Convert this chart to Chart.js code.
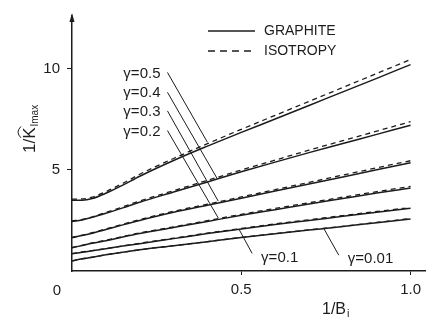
<!DOCTYPE html>
<html>
<head>
<meta charset="utf-8">
<script src="https://cdn.jsdelivr.net/npm/chart.js@4.4.1/dist/chart.umd.min.js"></script>
<style>
html, body { margin: 0; padding: 0; background: #fff; }
#caixa { width: 427px; height: 322px; position: relative; }
</style>
</head>
<body>
<div id="caixa"><canvas id="grafico"></canvas></div>
<script>
// eixo x: 1/Bi
const valoresX = [0, 0.03, 0.06, 0.1, 0.15, 0.2, 0.3, 0.4, 0.5, 0.6, 0.7, 0.8, 0.9, 1.0];

const gamas = ['γ=0.5', 'γ=0.4', 'γ=0.3', 'γ=0.2', 'γ=0.1', 'γ=0.01'];

// 1/K_Imax - grafite (linha cheia)
const grafite05 = [3.5, 3.5, 3.58, 3.84, 4.24, 4.68, 5.46, 6.17, 6.85, 7.51, 8.18, 8.85, 9.52, 10.2];
const grafite04 = [2.45, 2.52, 2.65, 2.85, 3.12, 3.4, 3.9, 4.4, 4.9, 5.38, 5.85, 6.3, 6.75, 7.2];
const grafite03 = [1.65, 1.75, 1.87, 2.05, 2.28, 2.5, 2.9, 3.25, 3.6, 3.95, 4.3, 4.65, 5.0, 5.35];
const grafite02 = [1.15, 1.26, 1.37, 1.5, 1.68, 1.85, 2.15, 2.45, 2.75, 3.03, 3.31, 3.58, 3.85, 4.1];
const grafite01 = [0.85, 0.93, 1.0, 1.1, 1.23, 1.35, 1.6, 1.85, 2.08, 2.3, 2.5, 2.7, 2.9, 3.1];
const grafite001 = [0.5, 0.6, 0.68, 0.8, 0.93, 1.05, 1.25, 1.45, 1.65, 1.84, 2.02, 2.2, 2.39, 2.57];

// 1/K_Imax - isotropia (tracejada)
const isotropia05 = [3.55, 3.56, 3.65, 3.92, 4.33, 4.78, 5.56, 6.29, 7.0, 7.69, 8.38, 9.07, 9.76, 10.45];
const isotropia04 = [2.47, 2.55, 2.68, 2.89, 3.17, 3.46, 3.97, 4.48, 4.99, 5.48, 5.97, 6.44, 6.91, 7.38];
const isotropia03 = [1.66, 1.77, 1.89, 2.08, 2.31, 2.54, 2.95, 3.3, 3.66, 4.02, 4.38, 4.74, 5.1, 5.45];
const isotropia02 = [1.16, 1.27, 1.39, 1.52, 1.7, 1.88, 2.18, 2.49, 2.8, 3.09, 3.37, 3.65, 3.92, 4.18];
const isotropia01 = [0.86, 0.94, 1.01, 1.11, 1.24, 1.37, 1.62, 1.87, 2.1, 2.33, 2.53, 2.74, 2.94, 3.14];
const isotropia001 = [0.5, 0.6, 0.68, 0.8, 0.93, 1.05, 1.25, 1.45, 1.66, 1.85, 2.03, 2.21, 2.4, 2.59];

// linhas de chamada dos rotulos (inicio no rotulo, fim na curva)
const chamadaInicioX = [0.282, 0.282, 0.282, 0.282, 0.532, 0.788];
const chamadaInicioY = [9.81, 8.83, 7.91, 6.94, 0.87, 0.78];
const chamadaFimX = [0.40, 0.429, 0.432, 0.432, 0.494, 0.744];
const chamadaFimY = [6.36, 4.56, 3.45, 2.62, 2.04, 2.09];

const ticksX = [0.5, 1.0];
const ticksY = [5, 10];

const COR = '#1c1c1c';
const FONTE = '"Liberation Sans", Arial, sans-serif';

function serie(ys) {
    return valoresX.map((x, i) => ({ x: x, y: ys[i] }));
}

const grafites = [grafite05, grafite04, grafite03, grafite02, grafite01, grafite001];
const isotropias = [isotropia05, isotropia04, isotropia03, isotropia02, isotropia01, isotropia001];

const conjuntos = [];
grafites.forEach((g, i) => {
    conjuntos.push({
        label: 'GRAPHITE ' + gamas[i],
        data: serie(g),
        borderColor: COR, borderWidth: 1.5, pointRadius: 0,
        cubicInterpolationMode: 'monotone', fill: false
    });
});
isotropias.forEach((g, i) => {
    conjuntos.push({
        label: 'ISOTROPY ' + gamas[i],
        data: serie(g),
        borderColor: COR, borderWidth: 1.3, borderDash: [5, 4], pointRadius: 0,
        cubicInterpolationMode: 'monotone', fill: false
    });
});
gamas.forEach((g, i) => {
    conjuntos.push({
        label: 'chamada ' + g,
        data: [{ x: chamadaInicioX[i], y: chamadaInicioY[i] }, { x: chamadaFimX[i], y: chamadaFimY[i] }],
        borderColor: COR, borderWidth: 1, pointRadius: 0, fill: false
    });
});

const desenhoExtra = {
    id: 'desenhoExtra',
    afterDraw(chart) {
        const ctx = chart.ctx;
        const sx = chart.scales.x, sy = chart.scales.y;
        const area = chart.chartArea;
        ctx.save();
        ctx.fillStyle = COR;
        ctx.strokeStyle = COR;

        // seta no topo do eixo y
        ctx.beginPath();
        ctx.moveTo(area.left, area.top - 3);
        ctx.lineTo(area.left - 2.5, area.top + 6);
        ctx.lineTo(area.left + 2.5, area.top + 6);
        ctx.closePath();
        ctx.fill();

        // rotulos gama
        ctx.font = '15px ' + FONTE;
        ctx.textBaseline = 'middle';
        gamas.forEach((g, i) => {
            const px = sx.getPixelForValue(chamadaInicioX[i]);
            const py = sy.getPixelForValue(chamadaInicioY[i]);
            if (i < 4) {
                ctx.textAlign = 'right';
                ctx.fillText(g, px - 7, py + 1);
            } else {
                ctx.textAlign = 'left';
                ctx.fillText(g, px + 9, py + 4);
            }
        });

        // legenda
        ctx.lineWidth = 1.5;
        ctx.beginPath();
        ctx.moveTo(208, 31); ctx.lineTo(255, 31);
        ctx.stroke();
        ctx.setLineDash([7, 5]);
        ctx.beginPath();
        ctx.moveTo(208, 51); ctx.lineTo(255, 51);
        ctx.stroke();
        ctx.setLineDash([]);
        ctx.textAlign = 'left';
        ctx.font = '14px ' + FONTE;
        ctx.fillText('GRAPHITE', 264, 31);
        ctx.fillText('ISOTROPY', 264, 51);

        // origem
        ctx.font = '15px ' + FONTE;
        ctx.textAlign = 'center';
        ctx.fillText('0', sx.getPixelForValue(0) - 15, 291);

        // titulo do eixo x: 1/Bi
        ctx.textAlign = 'left';
        ctx.font = '16px ' + FONTE;
        const tx = 322;
        ctx.fillText('1/B', tx, 310);
        const wB = ctx.measureText('1/B').width;
        ctx.font = '11px ' + FONTE;
        ctx.fillText('i', tx + wB + 1, 314);

        // titulo do eixo y: 1/K^Imax (rotacionado)
        ctx.translate(30, 153);
        ctx.rotate(-Math.PI / 2);
        ctx.font = '17px ' + FONTE;
        ctx.textAlign = 'left';
        ctx.fillText('1/K', 0, 0);
        const w1 = ctx.measureText('1/').width;
        const wK = ctx.measureText('K').width;
        // chapeu sobre o K
        ctx.lineWidth = 1;
        ctx.beginPath();
        ctx.moveTo(w1 + 1, -9);
        ctx.quadraticCurveTo(w1 + wK / 2 + 1, -15, w1 + wK + 1, -9);
        ctx.stroke();
        ctx.font = '10px ' + FONTE;
        ctx.fillText('Imax', w1 + wK + 1, 5);
        ctx.restore();
    }
};

new Chart(document.getElementById('grafico').getContext('2d'), {
    type: 'line',
    data: { datasets: conjuntos },
    options: {
        responsive: true,
        maintainAspectRatio: false,
        animation: false,
        layout: { padding: { top: 12, right: 0, left: 0, bottom: 0 } },
        plugins: { legend: { display: false }, tooltip: { enabled: false } },
        scales: {
            x: {
                type: 'linear', min: 0, max: 1.044,
                afterFit: s => { s.height = 51; },
                afterBuildTicks: s => { s.ticks = ticksX.map(v => ({ value: v })); },
                border: { display: true, color: COR, width: 1.5 },
                grid: { drawOnChartArea: false, tickLength: 4, color: COR },
                ticks: {
                    color: COR, padding: 6, maxRotation: 0,
                    font: { family: FONTE, size: 15 },
                    callback: v => v.toFixed(1)
                }
            },
            y: {
                type: 'linear', min: 0, max: 12.6,
                afterFit: s => { s.width = 72; },
                afterBuildTicks: s => { s.ticks = ticksY.map(v => ({ value: v })); },
                border: { display: true, color: COR, width: 1.5 },
                grid: { drawOnChartArea: false, tickLength: 5, color: COR },
                ticks: {
                    color: COR, padding: 7,
                    font: { family: FONTE, size: 15 }
                }
            }
        }
    },
    plugins: [desenhoExtra]
});
</script>
</body>
</html>
